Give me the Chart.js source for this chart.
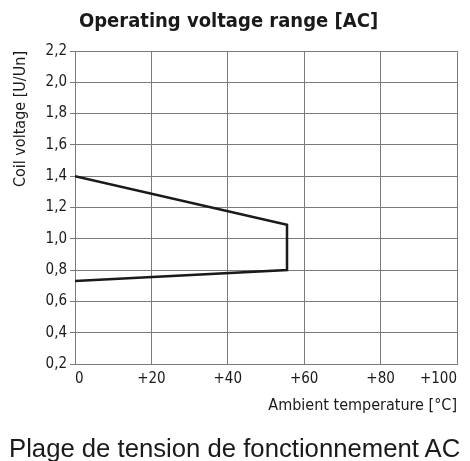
<!DOCTYPE html>
<html>
<head>
<meta charset="utf-8">
<script src="https://cdn.jsdelivr.net/npm/chart.js@4"></script>
<style>
  html, body { margin: 0; padding: 0; background: #fff; }
  #wrap { position: relative; width: 470px; height: 461px; overflow: hidden; }
  #caption {
    position: absolute; left: 9px; top: 435px;
    font: 25.7px/26px 'Liberation Sans', Arial, sans-serif;
    color: #1a1a1a; white-space: nowrap;
  }
</style>
</head>
<body>
<div id="wrap">
  <canvas id="voltageChart" width="470" height="461"></canvas>
  <div id="caption">Plage de tension de fonctionnement AC</div>
</div>
<script>
// ambient temperature (°C) and coil voltage (U/Un) along the operating range outline
const temps = [0, 55.5, 55.5, 0];
const volts = [1.4, 1.09, 0.8, 0.73];
const xTicks = [0, 20, 40, 60, 80, 100];
const yTicks = [0.2, 0.4, 0.6, 0.8, 1.0, 1.2, 1.4, 1.6, 1.8, 2.0, 2.2];

const narrow = "'Liberation Sans Narrow', 'DejaVu Sans Condensed', sans-serif";

const ctx = document.getElementById("voltageChart").getContext("2d");

new Chart(ctx, {
  type: "line",
  data: {
    datasets: [
      {
        data: temps.map((t, i) => ({ x: t, y: volts[i] })),
        borderColor: "#1a1a1a",
        borderWidth: 2.5,
        pointRadius: 0,
        tension: 0,
        fill: false
      }
    ]
  },
  options: {
    responsive: false,
    animation: false,
    layout: { padding: { left: 0, right: 13, top: 0, bottom: 46 } },
    plugins: {
      legend: { display: false },
      tooltip: { enabled: false },
      title: {
        display: true,
        text: "Operating voltage range [AC]",
        color: "#1a1a1a",
        font: { family: narrow, size: 20, weight: "bold" },
        padding: { top: 10, bottom: 17 }
      }
    },
    scales: {
      x: {
        type: "linear",
        min: 0,
        max: 100,
        afterBuildTicks: axis => { axis.ticks = xTicks.map(v => ({ value: v })); },
        afterFit: axis => { axis.height = 51; },
        grid: { color: "#7a7a7a", lineWidth: 1, drawTicks: false },
        border: { color: "#7a7a7a" },
        ticks: {
          color: "#1a1a1a",
          padding: 6,
          align: "inner",
          font: { family: narrow, size: 15 },
          callback: v => (v === 0 ? "0" : "+" + v)
        },
        title: {
          display: true,
          text: "Ambient temperature [°C]",
          align: "end",
          color: "#1a1a1a",
          font: { family: narrow, size: 16 },
          padding: { top: 0, bottom: 0 }
        }
      },
      y: {
        min: 0.2,
        max: 2.2,
        afterBuildTicks: axis => { axis.ticks = yTicks.map(v => ({ value: v })); },
        afterFit: axis => { axis.width = 75; },
        grid: { color: "#7a7a7a", lineWidth: 1, tickLength: 5 },
        border: { color: "#7a7a7a" },
        ticks: {
          color: "#1a1a1a",
          padding: 3,
          font: { family: narrow, size: 15 },
          callback: v => v.toFixed(1).replace(".", ",")
        },
        title: {
          display: true,
          text: "Coil voltage [U/Un]",
          align: "end",
          color: "#1a1a1a",
          font: { family: narrow, size: 16 },
          padding: { top: 11, bottom: 4 }
        }
      }
    }
  }
});
</script>
</body>
</html>
